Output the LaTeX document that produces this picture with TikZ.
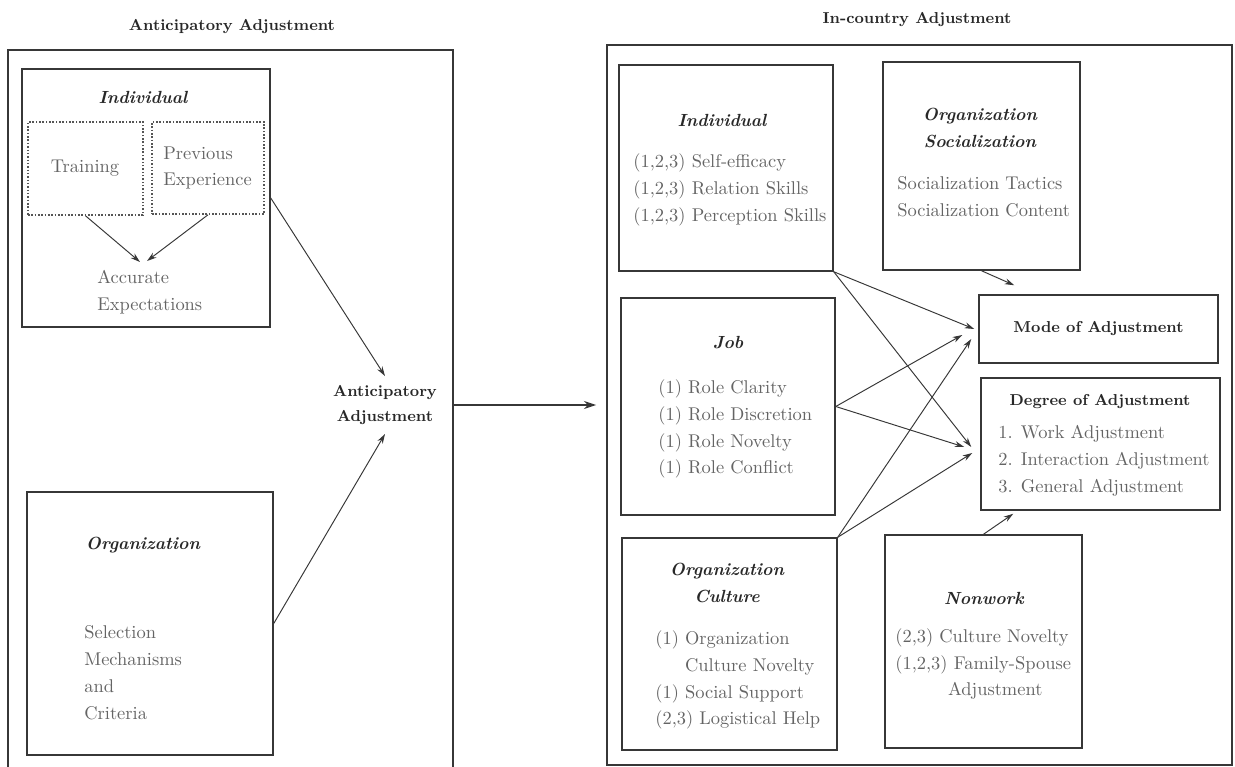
\documentclass[tikz,border=0pt]{standalone}
\usetikzlibrary{arrows.meta,calc,fit}
\definecolor{linec}{RGB}{55,55,55}
\definecolor{bodyc}{RGB}{100,100,100}
\definecolor{headc}{RGB}{40,40,40}
\begin{document}
\begin{tikzpicture}[x=0.02cm,y=-0.02cm,
  box/.style={draw=linec,line width=0.85pt,inner sep=0pt,fit={#1}},
  dbox/.style={draw=linec!85,line width=0.9pt,densely dotted,inner sep=0pt,fit={#1}},
  conn/.style={draw=linec,line width=0.55pt,-{Stealth[length=5.5pt,width=3.4pt]}},
  big/.style={draw=linec,line width=1.3pt,-{Stealth[length=7pt,width=4.5pt]}},
  hd/.style={text=headc,font=\fontsize{9}{14.5}\selectfont\bfseries,align=center,inner sep=0pt},
  hi/.style={text=headc,font=\fontsize{10}{15.3}\selectfont\bfseries\itshape,align=center,inner sep=0pt},
  bd/.style={text=bodyc,font=\fontsize{10.5}{15.3}\selectfont,align=left,inner sep=0pt,anchor=west},
]
\useasboundingbox (0,0) rectangle (1235,767);
\clip (0,0) rectangle (1235,767);

% ---------- left panel ----------
\node[hd] (titleL) at (232,27) {Anticipatory Adjustment};
\node[box={(8,50) (453,800)}] (outerL) {};
\node[box={(22,69) (270,327)}] (indL) {};
\node[hi] (indLt) at (143,97) {Individual};
\node[dbox={(28,122) (143,215)}] (train) {};
\node[dbox={(152,122) (264,214)}] (prev) {};
\node[bd,anchor=center] (traint) at (85,168) {Training};
\node[bd] (prevt) at (163,168) {Previous\\Experience};
\node[bd] (acc) at (97,292) {Accurate\\Expectations};
\coordinate (accA) at (140,262);
\coordinate (accB) at (147,261);
\draw[conn] (train.south) -- (accA);
\draw[conn] (prev.south) -- (accB);

\node[box={(27,492) (273,755)}] (orgL) {};
\node[hi] (orgLt) at (143,545) {Organization};
\node[bd] (sel) at (84,673) {Selection\\Mechanisms\\and\\Criteria};

\node[hd,inner sep=5pt] (antic) at (385,405) {Anticipatory\\Adjustment};
\draw[conn] (indL.east) -- (antic.north);
\draw[conn] (orgL.east) -- (antic.south);

% ---------- right panel ----------
\node[hd] (titleR) at (917,20) {In-country Adjustment};
\node[box={(607,45) (1232,765)}] (outerR) {};
\coordinate (bigend) at ($(outerR.west |- antic)+(-10,0)$);
\draw[big] (outerL.east |- antic) -- (bigend);

\node[box={(619,65) (833,271)}] (indR) {};
\node[hi] (indRt) at (722,120) {Individual};
\node[bd] (indRl) at (633,190) {(1,2,3) Self-efficacy\\(1,2,3) Relation Skills\\(1,2,3) Perception Skills};

\node[box={(883,62) (1080,270)}] (socR) {};
\node[hi] (socRt) at (980,128) {Organization\\Socialization};
\node[bd] (socRl) at (897,197) {Socialization Tactics\\Socialization Content};

\node[box={(979,295) (1218,363)}] (mode) {};
\node[hd] (modet) at (mode.center) {Mode of Adjustment};

\node[box={(981,378) (1220,510)}] (degree) {};
\node[hd] (degreet) at (1100,402) {Degree of Adjustment};
\node[bd] (degreel) at (998,461) {1. Work Adjustment\\2. Interaction Adjustment\\3. General Adjustment};

\node[box={(621,298) (835,515)}] (job) {};
\node[hi] (jobt) at (728,343) {Job};
\node[bd] (jobl) at (658,429) {(1) Role Clarity\\(1) Role Discretion\\(1) Role Novelty\\(1) Role Conflict};

\node[box={(622,538) (837,750)}] (cult) {};
\node[hi] (cultt) at (727,583) {Organization\\Culture};
\node[bd] (cultl) at (655,680) {(1) Organization\\\phantom{(1) }Culture Novelty\\(1) Social Support\\(2,3) Logistical Help};

\node[box={(885,535) (1082,748)}] (nonw) {};
\node[hi] (nonwt) at (984,598) {Nonwork};
\node[bd] (nonwl) at (895,664) {(2,3) Culture Novelty\\(1,2,3) Family-Spouse\\\hspace*{30pt}Adjustment};

% ---------- connectors into mode / degree ----------
\coordinate (mA) at ($(mode.west)+(-4,0)$);
\coordinate (mB) at ($(mode.west)+(-16,6)$);
\coordinate (mC) at ($(mode.west)+(-7,10)$);
\coordinate (dA) at ($(degree.west)+(-9,3)$);
\coordinate (dB) at ($(degree.west)+(-16,3)$);
\coordinate (dC) at ($(degree.west)+(-8,9)$);
\draw[conn] (indR.south east) -- (mA);
\draw[conn] (indR.south east) -- (dA);
\draw[conn] (job.east) -- (mB);
\draw[conn] (job.east) -- (dB);
\draw[conn] (cult.north east) -- (mC);
\draw[conn] (cult.north east) -- (dC);
\coordinate (mTop) at ($(mode.north west)+(36,-9)$);
\draw[conn] (socR.south) -- (mTop);
\coordinate (dBot) at ($(degree.south west)+(33,3)$);
\draw[conn] (nonw.north) -- (dBot);
\end{tikzpicture}
\end{document}
